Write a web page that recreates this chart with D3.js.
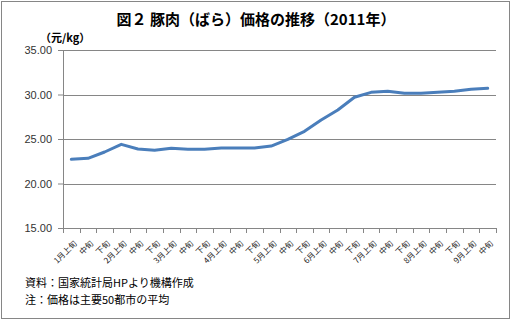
<!DOCTYPE html>
<html>
<head>
<meta charset="utf-8">
<script src="https://cdn.jsdelivr.net/npm/d3@7"></script>
<style>
  body { margin: 0; background: #fff; }
  text { font-family: "Noto Sans CJK JP", "Noto Sans", sans-serif; }
</style>
</head>
<body>
<svg id="chart" width="513" height="322"></svg>
<script>
// 旬ごとのカテゴリ
const months = ["1月", "2月", "3月", "4月", "5月", "6月", "7月", "8月", "9月"];
const periods = ["上旬", "中旬", "下旬"];
const categories = [];
months.forEach(m => periods.forEach((p, j) => categories.push(j === 0 ? m + p : p)));
categories.splice(26);

// 価格 (元/kg)
const prices = [22.72, 22.83, 23.54, 24.40, 23.88, 23.73, 23.95, 23.84, 23.86, 23.99,
                23.99, 24.00, 24.21, 24.96, 25.86, 27.13, 28.26, 29.69, 30.24, 30.36,
                30.13, 30.15, 30.24, 30.36, 30.58, 30.69];

const yTicks = [15, 20, 25, 30, 35];

const svg = d3.select("#chart");

// 外枠
svg.append("rect")
    .attr("x", 1.5).attr("y", 1.5)
    .attr("width", 508).attr("height", 317)
    .attr("fill", "#fff")
    .attr("stroke", "#868686");

const margin = { top: 50, right: 17, bottom: 94, left: 63 };
const width = 513 - margin.left - margin.right;
const height = 322 - margin.top - margin.bottom;

const g = svg.append("g").attr("transform", `translate(${margin.left},${margin.top})`);

const x = d3.scaleBand().domain(d3.range(categories.length)).range([0, width]);
const y = d3.scaleLinear().domain([15, 35]).range([height, 0]);

// グリッド線
g.selectAll("line.grid")
    .data(yTicks.filter(t => t > 15))
    .join("line")
    .attr("class", "grid")
    .attr("x1", 0).attr("x2", width)
    .attr("y1", d => Math.round(y(d)) + 0.5)
    .attr("y2", d => Math.round(y(d)) + 0.5)
    .attr("stroke", "#868686");

// Y軸
const yAxis = g.append("g")
    .call(d3.axisLeft(y).tickValues(yTicks).tickFormat(d3.format(".2f")).tickSize(5).tickSizeOuter(0));
yAxis.select(".domain").attr("stroke", "#868686");
yAxis.selectAll(".tick line").attr("stroke", "#868686");
yAxis.selectAll("text")
    .attr("x", -11)
    .style("font-family", "'Liberation Sans', Arial, sans-serif")
    .style("font-size", "11px")
    .attr("fill", "#333");

// X軸
const xAxis = g.append("g").attr("transform", `translate(0,${height})`);
xAxis.append("line")
    .attr("x1", 0).attr("x2", width)
    .attr("y1", 0.5).attr("y2", 0.5)
    .attr("stroke", "#868686");
xAxis.selectAll("line.tick")
    .data(d3.range(categories.length + 1))
    .join("line")
    .attr("class", "tick")
    .attr("x1", d => Math.round(d * x.step()) + 0.5)
    .attr("x2", d => Math.round(d * x.step()) + 0.5)
    .attr("y1", 0).attr("y2", 5)
    .attr("stroke", "#868686");
xAxis.selectAll("text")
    .data(categories)
    .join("text")
    .attr("transform", (d, i) => `translate(${x(i) + x.bandwidth() / 2 + 4},${14}) rotate(-45)`)
    .attr("text-anchor", "end")
    .attr("dy", "0.35em")
    .style("font-size", "8px")
    .attr("fill", "#222")
    .text(d => d);

// 折れ線
const line = d3.line()
    .x((d, i) => x(i) + x.bandwidth() / 2)
    .y(d => y(d));

g.append("path")
    .datum(prices)
    .attr("fill", "none")
    .attr("stroke", "#4a7ebb")
    .attr("stroke-width", 3)
    .attr("stroke-linejoin", "round")
    .attr("stroke-linecap", "round")
    .attr("d", line);

// タイトル
svg.append("text")
    .attr("x", 256).attr("y", 25)
    .attr("text-anchor", "middle")
    .style("font-size", "15px")
    .style("font-weight", "bold")
    .text("図２ 豚肉（ばら）価格の推移（2011年）");

svg.append("text")
    .attr("x", 40).attr("y", 42)
    .style("font-size", "11px")
    .style("font-weight", "bold")
    .text("（元/kg）");

// 注記
svg.append("text")
    .attr("x", 25).attr("y", 287)
    .style("font-size", "11px")
    .text("資料：国家統計局HPより機構作成");
svg.append("text")
    .attr("x", 25).attr("y", 304)
    .style("font-size", "11px")
    .text("注：価格は主要50都市の平均");
</script>
</body>
</html>
